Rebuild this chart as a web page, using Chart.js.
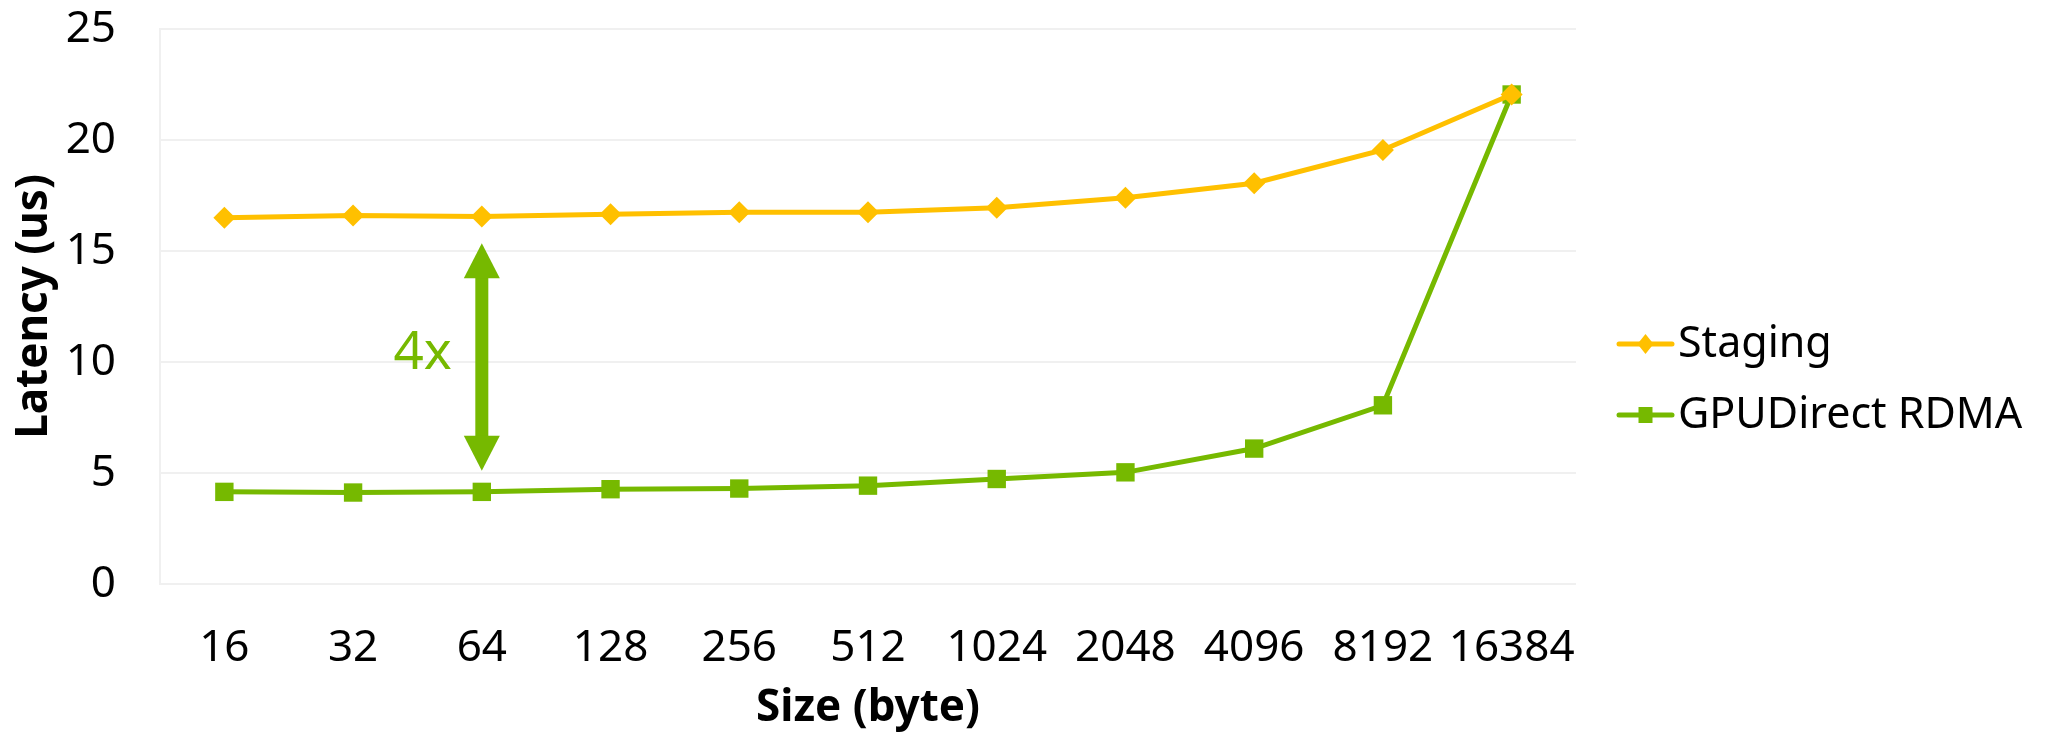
<!DOCTYPE html>
<html>
<head>
<meta charset="utf-8">
<script src="https://cdn.jsdelivr.net/npm/chart.js@4.4.0/dist/chart.umd.min.js"></script>
<style>
  html, body { margin: 0; padding: 0; background: #fff; }
  #wrap { width: 2059px; height: 735px; }
</style>
</head>
<body>
<div id="wrap"><canvas id="latencyChart"></canvas></div>
<script>
const sizes = ["16", "32", "64", "128", "256", "512", "1024", "2048", "4096", "8192", "16384"];
const stagingLatency = [16.5, 16.6, 16.55, 16.65, 16.75, 16.75, 16.95, 17.4, 18.05, 19.55, 22.05];
const rdmaLatency = [4.15, 4.12, 4.15, 4.27, 4.3, 4.43, 4.73, 5.03, 6.1, 8.05, 22.05];
const yTicks = [0, 5, 10, 15, 20, 25];

// the "4x" gap marker, in data units
const gapIndex = 2;
const gapTop = 15.35;
const gapBottom = 5.1;
const gapLabel = "4x";

const yellow = "#FFC000";
const green = "#76B900";
const fontFamily = "'Noto Sans', 'DejaVu Sans', sans-serif";

// Arrow between the two series plus its label
const gapArrow = {
  id: "gapArrow",
  afterDatasetsDraw(chart) {
    const { ctx, scales } = chart;
    const x = scales.x.getPixelForValue(gapIndex);
    const y1 = scales.y.getPixelForValue(gapTop);
    const y2 = scales.y.getPixelForValue(gapBottom);
    const headLen = 35, headHalf = 18, shaft = 6.5;
    ctx.save();
    ctx.fillStyle = green;
    ctx.fillRect(x - shaft, y1 + headLen - 1, shaft * 2, (y2 - y1) - headLen * 2 + 2);
    ctx.beginPath();
    ctx.moveTo(x, y1);
    ctx.lineTo(x + headHalf, y1 + headLen);
    ctx.lineTo(x - headHalf, y1 + headLen);
    ctx.closePath();
    ctx.fill();
    ctx.beginPath();
    ctx.moveTo(x, y2);
    ctx.lineTo(x + headHalf, y2 - headLen);
    ctx.lineTo(x - headHalf, y2 - headLen);
    ctx.closePath();
    ctx.fill();
    ctx.font = "53px " + fontFamily;
    ctx.textAlign = "right";
    ctx.textBaseline = "middle";
    ctx.fillText(gapLabel, x - 30, (y1 + y2) / 2 - 3);
    ctx.restore();
  }
};

// Legend drawn as line + marker like the original
const lineLegend = {
  id: "lineLegend",
  afterDraw(chart) {
    const { ctx } = chart;
    const x0 = 1619, x1 = 1672, textX = 1678;
    const rows = [344, 415];
    ctx.save();
    chart.data.datasets.forEach((ds, i) => {
      const y = rows[i];
      ctx.strokeStyle = ds.borderColor;
      ctx.lineWidth = 5;
      ctx.lineCap = "round";
      ctx.beginPath();
      ctx.moveTo(x0, y);
      ctx.lineTo(x1, y);
      ctx.stroke();
      const cx = (x0 + x1) / 2;
      ctx.fillStyle = ds.borderColor;
      ctx.beginPath();
      if (ds.pointStyle === "rectRot") {
        ctx.moveTo(cx, y - 10);
        ctx.lineTo(cx + 8, y);
        ctx.lineTo(cx, y + 10);
        ctx.lineTo(cx - 8, y);
        ctx.closePath();
      } else {
        ctx.rect(cx - 7, y - 8, 14, 16);
      }
      ctx.fill();
      ctx.fillStyle = "#000";
      ctx.font = "43px " + fontFamily;
      ctx.textAlign = "left";
      ctx.textBaseline = "middle";
      ctx.fillText(ds.label, textX, y + 1);
    });
    ctx.restore();
  }
};

const ctx = document.getElementById("latencyChart").getContext("2d");
new Chart(ctx, {
  type: "line",
  data: {
    labels: sizes,
    datasets: [
      {
        label: "Staging",
        data: stagingLatency,
        borderColor: yellow,
        backgroundColor: yellow,
        borderWidth: 5,
        pointStyle: "rectRot",
        pointRadius: 11,
        pointBorderWidth: 0,
        tension: 0
      },
      {
        label: "GPUDirect RDMA",
        data: rdmaLatency,
        borderColor: green,
        backgroundColor: green,
        borderWidth: 5,
        pointStyle: "rect",
        pointRadius: 13,
        pointBorderWidth: 0,
        tension: 0
      }
    ]
  },
  options: {
    responsive: true,
    maintainAspectRatio: false,
    animation: false,
    layout: { padding: { top: 29, right: 483, left: 0, bottom: 0 } },
    plugins: {
      legend: { display: false },
      tooltip: { enabled: false }
    },
    scales: {
      x: {
        offset: true,
        grid: { display: false, drawTicks: false, offset: true },
        border: { display: false },
        ticks: {
          color: "#000",
          font: { family: fontFamily, size: 44 },
          padding: 38,
          maxRotation: 0,
          autoSkip: false
        },
        title: {
          display: true,
          text: "Size (byte)",
          color: "#000",
          font: { family: fontFamily, size: 44, weight: "bold" },
          padding: { top: 7, bottom: 0 }
        },
        afterFit(scale) {
          scale.height = 151;
          scale.paddingLeft = 0;
          scale.paddingRight = 0;
        }
      },
      y: {
        min: 0,
        max: 25,
        afterBuildTicks(scale) {
          scale.ticks = yTicks.map(v => ({ value: v }));
        },
        grid: { color: "#f0f0f0", lineWidth: 2, drawTicks: false },
        border: { display: true, color: "#f0f0f0", width: 2 },
        ticks: {
          color: "#000",
          font: { family: fontFamily, size: 44 },
          padding: 44
        },
        title: {
          display: true,
          text: "Latency (us)",
          color: "#000",
          font: { family: fontFamily, size: 44, weight: "bold" },
          padding: { top: 8, bottom: 0 }
        },
        afterFit(scale) {
          scale.width = 160;
          scale.paddingTop = 0;
          scale.paddingBottom = 0;
        }
      }
    }
  },
  plugins: [gapArrow, lineLegend]
});
</script>
</body>
</html>
